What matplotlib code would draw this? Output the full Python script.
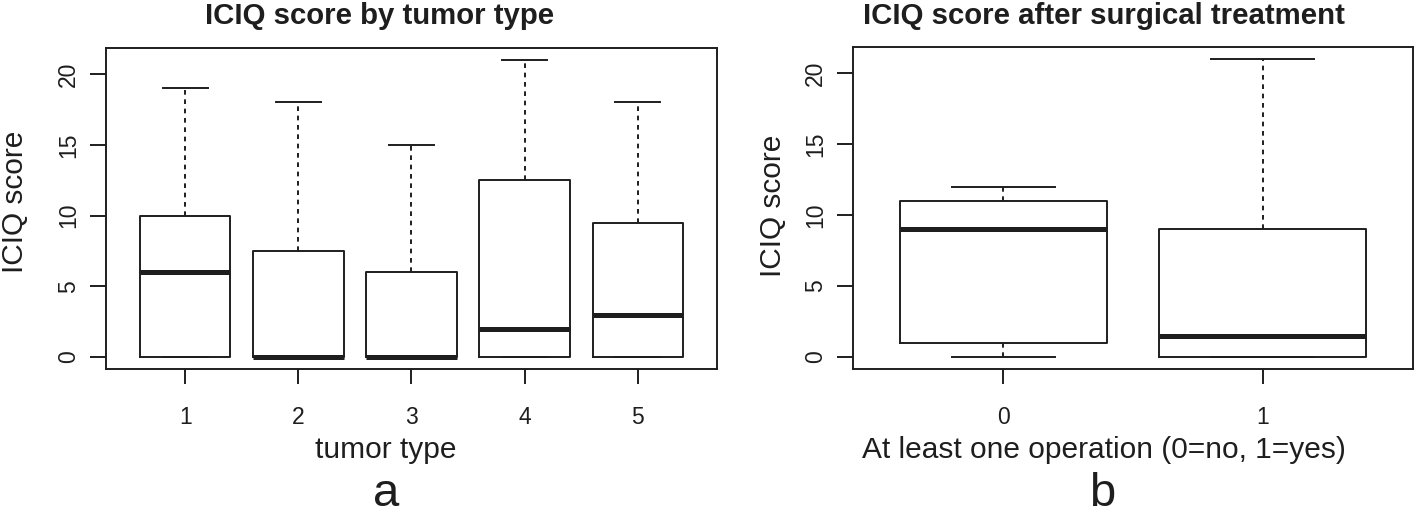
import matplotlib
matplotlib.use("Agg")
import matplotlib.pyplot as plt

plt.rcParams['font.family'] = ['Liberation Sans', 'DejaVu Sans']

tumor_types = ["1", "2", "3", "4", "5"]
a_min = [0, 0, 0, 0, 0]
a_q1 = [0, 0, 0, 0, 0]
a_med = [6, 0, 0, 2, 3]
a_q3 = [10, 7.5, 6, 12.5, 9.5]
a_max = [19, 18, 15, 21, 18]

# panel b: ICIQ score after surgical treatment
operation = ["0", "1"]
b_min = [0, 0]
b_q1 = [1, 0]
b_med = [9, 1.5]
b_q3 = [11, 9]
b_max = [12, 21]

ink = '#1e1e1e'
lw = 1.4


def stats(mins, q1s, meds, q3s, maxs):
    out = []
    for lo, q1, m, q3, hi in zip(mins, q1s, meds, q3s, maxs):
        out.append(dict(whislo=lo, q1=q1, med=m, q3=q3, whishi=hi, fliers=[]))
    return out


def draw_box(ax, st, labels):
    n = len(st)
    pos = list(range(1, n + 1))
    ax.bxp(st, positions=pos, widths=0.8, capwidths=0.4, showfliers=False,
           boxprops=dict(color=ink, lw=lw),
           whiskerprops=dict(color=ink, lw=lw, linestyle=(0, (2.4, 2.4))),
           capprops=dict(color=ink, lw=lw),
           medianprops=dict(color=ink, lw=3.6, solid_capstyle='butt'))
    ax.set_xlim(0.5 - 0.04 * n, n + 0.5 + 0.04 * n)
    ax.set_ylim(-0.84, 21.84)
    ax.set_xticks(pos)
    ax.set_xticklabels(labels)
    ax.set_yticks([0, 5, 10, 15, 20])
    ax.set_yticklabels(["0", "5", "10", "15", "20"], rotation=90, va='center')
    ax.tick_params(axis='x', length=10.5, width=lw, color=ink, pad=16,
                   labelsize=16.5, labelcolor=ink)
    ax.tick_params(axis='y', length=11.5, width=lw, color=ink, pad=7,
                   labelsize=16.5, labelcolor=ink)
    for s in ax.spines.values():
        s.set_color(ink)
        s.set_linewidth(lw)


fig = plt.figure(figsize=(14.16, 5.17), dpi=100)
W, H = 1416, 517

ax1 = fig.add_axes([106 / W, 1 - 369 / H, (717 - 106) / W, (369 - 48) / H])
draw_box(ax1, stats(a_min, a_q1, a_med, a_q3, a_max), tumor_types)

ax2 = fig.add_axes([853 / W, 1 - 369 / H, (1413 - 853) / W, (369 - 47) / H])
draw_box(ax2, stats(b_min, b_q1, b_med, b_q3, b_max), operation)

fig.text(380 / W, 1 - 16 / H, "ICIQ score by tumor type", ha='center', va='center',
         fontsize=21.2, fontweight='bold', color=ink)
fig.text(1104 / W, 1 - 16 / H, "ICIQ score after surgical treatment", ha='center',
         va='center', fontsize=21.2, fontweight='bold', color=ink)

fig.text(386 / W, 1 - 450 / H, "tumor type", ha='center', va='center',
         fontsize=21.5, color=ink)
fig.text(1104 / W, 1 - 450 / H, "At least one operation (0=no, 1=yes)", ha='center',
         va='center', fontsize=21.5, color=ink)

fig.text(15 / W, 1 - 202 / H, "ICIQ score", rotation=90, ha='center', va='center',
         fontsize=21.5, color=ink)
fig.text(773 / W, 1 - 206 / H, "ICIQ score", rotation=90, ha='center', va='center',
         fontsize=21.5, color=ink)

fig.text(386 / W, 1 - 506 / H, "a", ha='center', va='baseline', fontsize=34, color=ink)
fig.text(1102 / W, 1 - 506 / H, "b", ha='center', va='baseline', fontsize=34, color=ink)

fig.savefig("out.png", dpi=100, facecolor='white')
